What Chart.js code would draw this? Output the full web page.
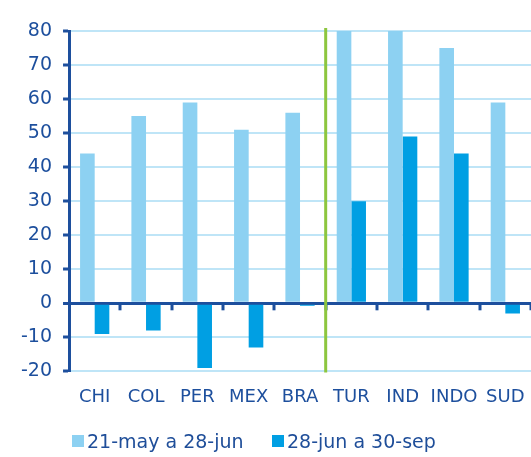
<!DOCTYPE html>
<html>
<head>
<meta charset="utf-8">
<script src="https://cdn.jsdelivr.net/npm/chart.js@4"></script>
<style>
  html, body { margin: 0; padding: 0; background: #fff; }
  #wrap { position: relative; width: 531px; height: 457px; }
  #legend { position: absolute; left: 72px; top: 430px; font-family: "DejaVu Sans", sans-serif; font-size: 19px; color: #1f4e99; white-space: nowrap; }
  #legend span.item { position: absolute; top: 0; display: flex; align-items: center; }
  #legend span.box { display: inline-block; width: 12px; height: 12px; margin-right: 3px; }
</style>
</head>
<body>
<div id="wrap">
  <canvas id="c"></canvas>
  <div id="legend"></div>
</div>
<script>
const categories = ['CHI', 'COL', 'PER', 'MEX', 'BRA', 'TUR', 'IND', 'INDO', 'SUD'];
const seriesNames = ['21-may a 28-jun', '28-jun a 30-sep'];
const mayJun = [44, 55, 59, 51, 56, 80, 80, 75, 59];
const junSep = [-9, -8, -19, -13, -0.7, 30, 49, 44, -3];
const yTicks = { min: -20, max: 80, step: 10 };

const lightBlue = '#8dd1f2';
const darkBlue = '#009fe3';
const navy = '#1d4f9d';
const gridBlue = '#bfe5f7';
const green = '#8dc63f';

// zero-line ticks at category boundaries + green divider between BRA and TUR
const extras = {
    id: 'extras',
    afterDraw: (chart) => {
        const c = chart.ctx, x = chart.scales.x, y = chart.scales.y, area = chart.chartArea;
        const y0 = y.getPixelForValue(0);
        const half = (x.getPixelForValue(1) - x.getPixelForValue(0)) / 2;
        c.save();
        c.strokeStyle = navy;
        c.lineWidth = 3;
        for (let i = 0; i < categories.length; i++) {
            const bx = Math.round(x.getPixelForValue(i) + half);
            c.beginPath();
            c.moveTo(bx, y0);
            c.lineTo(bx, y0 + 7);
            c.stroke();
        }
        const gx = (x.getPixelForValue(4) + x.getPixelForValue(5)) / 2;
        c.strokeStyle = green;
        c.lineWidth = 3;
        c.beginPath();
        c.moveTo(gx, area.top - 3);
        c.lineTo(gx, area.bottom + 1);
        c.stroke();
        c.restore();
    }
};

new Chart(document.getElementById('c'), {
    type: 'bar',
    data: {
        labels: categories,
        datasets: [
            { label: seriesNames[0], data: mayJun, backgroundColor: lightBlue },
            { label: seriesNames[1], data: junSep, backgroundColor: darkBlue }
        ]
    },
    options: {
        responsive: true,
        maintainAspectRatio: false,
        animation: false,
        datasets: { bar: { categoryPercentage: 0.57, barPercentage: 1 } },
        layout: { padding: { top: 31, left: 10, right: 0, bottom: 34 } },
        plugins: { legend: { display: false }, tooltip: { enabled: false } },
        scales: {
            x: {
                grid: { display: false, drawTicks: false },
                border: { display: false },
                ticks: { color: navy, padding: 15, maxRotation: 0, minRotation: 0, autoSkip: false, font: { family: 'DejaVu Sans', size: 18 } },
                afterFit: s => { s.paddingRight = 0; }
            },
            y: {
                min: yTicks.min,
                max: yTicks.max,
                ticks: { stepSize: yTicks.step, color: navy, padding: 11, font: { family: 'DejaVu Sans', size: 19 } },
                grid: {
                    color: ctx => ctx.tick && ctx.tick.value === 0 ? navy : gridBlue,
                    lineWidth: ctx => ctx.tick && ctx.tick.value === 0 ? 3 : 2,
                    tickColor: navy,
                    tickWidth: 3,
                    tickLength: 6
                },
                border: { color: navy, width: 3 }
            }
        }
    },
    plugins: [extras]
});

const legend = document.getElementById('legend');
[[seriesNames[0], lightBlue, 0], [seriesNames[1], darkBlue, 200]].forEach(([t, col, off]) => {
    legend.innerHTML += `<span class="item" style="left:${off}px"><span class="box" style="background:${col}"></span>${t}</span>`;
});
</script>
</body>
</html>
